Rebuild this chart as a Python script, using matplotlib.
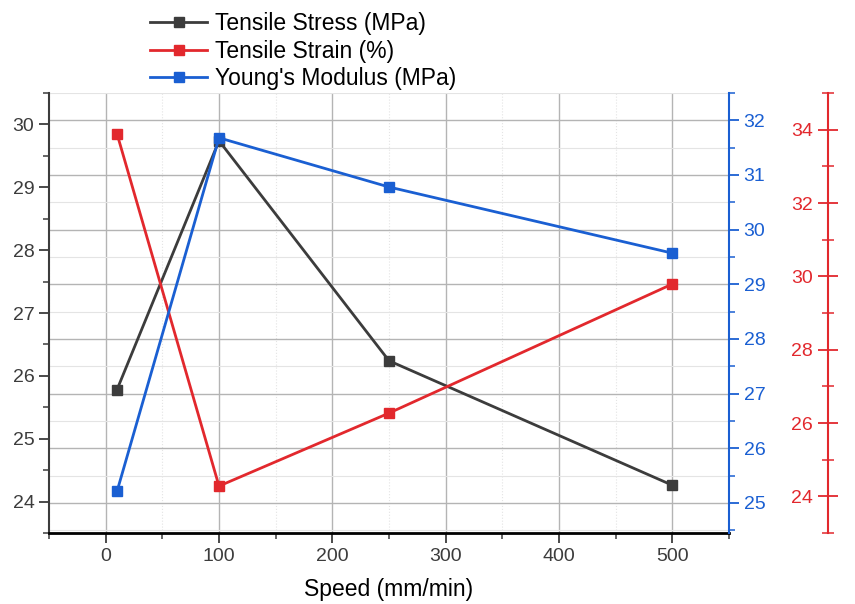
import matplotlib
matplotlib.use("Agg")
import matplotlib.pyplot as plt
from matplotlib.ticker import MultipleLocator

plt.rcParams['font.family'] = ['Liberation Sans', 'DejaVu Sans']

# data
speed = [10, 100, 250, 500]
tensile_stress = [25.78, 29.74, 26.24, 24.26]   # MPa, left axis
tensile_strain = [33.89, 24.28, 26.27, 29.79]   # %, far right axis
youngs_modulus = [25.21, 31.68, 30.78, 29.57]   # MPa, right axis

c_black = '#3c3c3c'
c_red = '#e2282d'
c_blue = '#1a5fd2'

fig = plt.figure(figsize=(8.55, 6.04), dpi=100)
rect = [49 / 855, 1 - 533 / 604, 680 / 855, 440 / 604]

# background axes used only for the grid (follows the blue scale)
g = fig.add_axes(rect, zorder=0)
g.set_xlim(-50, 550)
g.set_ylim(24.45, 32.5)
g.xaxis.set_major_locator(MultipleLocator(100))
g.xaxis.set_minor_locator(MultipleLocator(50))
g.yaxis.set_major_locator(MultipleLocator(1))
g.yaxis.set_minor_locator(MultipleLocator(0.5))
g.grid(which='major', color='#b4b4b4', lw=1.0)
g.grid(which='minor', axis='y', color='#e4e4e4', lw=0.8)
g.grid(which='minor', axis='x', color='#e4e4e4', lw=0.8, ls=':')
g.tick_params(which='both', length=0, labelleft=False, labelbottom=False)
for s in g.spines.values():
    s.set_visible(False)

# left axis: tensile stress
ax = fig.add_axes(rect, zorder=1)
ax.patch.set_visible(False)
l1, = ax.plot(speed, tensile_stress, '-s', color=c_black, lw=2, ms=7,
              label='Tensile Stress (MPa)')
ax.set_xlim(-50, 550)
ax.set_ylim(23.5, 30.5)
ax.xaxis.set_major_locator(MultipleLocator(100))
ax.xaxis.set_minor_locator(MultipleLocator(50))
ax.yaxis.set_major_locator(MultipleLocator(1))
ax.yaxis.set_minor_locator(MultipleLocator(0.5))
ax.spines['top'].set_visible(False)
ax.spines['right'].set_visible(False)
ax.spines['bottom'].set_linewidth(2)
ax.spines['bottom'].set_color('black')
ax.spines['left'].set_linewidth(1.5)
ax.spines['left'].set_color(c_black)
ax.tick_params(which='major', length=7, width=1.3, labelsize=14,
               colors=c_black)
ax.tick_params(which='minor', length=4, width=1.1, colors=c_black)
ax.set_xlabel('Speed (mm/min)', fontsize=16.5, labelpad=10)

# red axis: tensile strain (spine offset to the right, labels on its left)
axr = fig.add_axes(rect, zorder=2)
axr.patch.set_visible(False)
l2, = axr.plot(speed, tensile_strain, '-s', color=c_red, lw=2, ms=7,
               label='Tensile Strain (%)')
axr.set_xlim(-50, 550)
axr.set_ylim(23, 35)
axr.yaxis.tick_left()
axr.yaxis.set_major_locator(MultipleLocator(2))
axr.yaxis.set_minor_locator(MultipleLocator(1))
for k in ['top', 'right', 'bottom']:
    axr.spines[k].set_visible(False)
axr.spines['left'].set_position(('axes', 1 + 99 / 680))
axr.spines['left'].set_color(c_red)
axr.spines['left'].set_linewidth(1.5)
axr.tick_params(axis='y', which='major', direction='inout', length=14,
                width=1.3, labelsize=14, colors=c_red, pad=4)
axr.tick_params(axis='y', which='minor', direction='inout', length=8,
                width=1.1, colors=c_red)
axr.set_xticks([])

# blue axis: young's modulus
axb = fig.add_axes(rect, zorder=3)
axb.patch.set_visible(False)
l3, = axb.plot(speed, youngs_modulus, '-s', color=c_blue, lw=2, ms=7,
               label="Young's Modulus (MPa)")
axb.set_xlim(-50, 550)
axb.set_ylim(24.45, 32.5)
axb.yaxis.tick_right()
axb.yaxis.set_major_locator(MultipleLocator(1))
axb.yaxis.set_minor_locator(MultipleLocator(0.5))
for k in ['top', 'left', 'bottom']:
    axb.spines[k].set_visible(False)
axb.spines['right'].set_color(c_blue)
axb.spines['right'].set_linewidth(1.5)
axb.tick_params(axis='y', which='major', length=7, width=1.3,
                labelsize=14, colors=c_blue)
axb.tick_params(axis='y', which='minor', length=4, width=1.1, colors=c_blue)
axb.set_xticks([])

fig.legend(handles=[l1, l2, l3], loc='upper left',
           bbox_to_anchor=(150 / 855, 1 - 12 / 604), frameon=False,
           fontsize=16.5, handlelength=2.5, handletextpad=0.35,
           labelspacing=0.2, borderpad=0, borderaxespad=0)

fig.savefig('out.png', dpi=100)
